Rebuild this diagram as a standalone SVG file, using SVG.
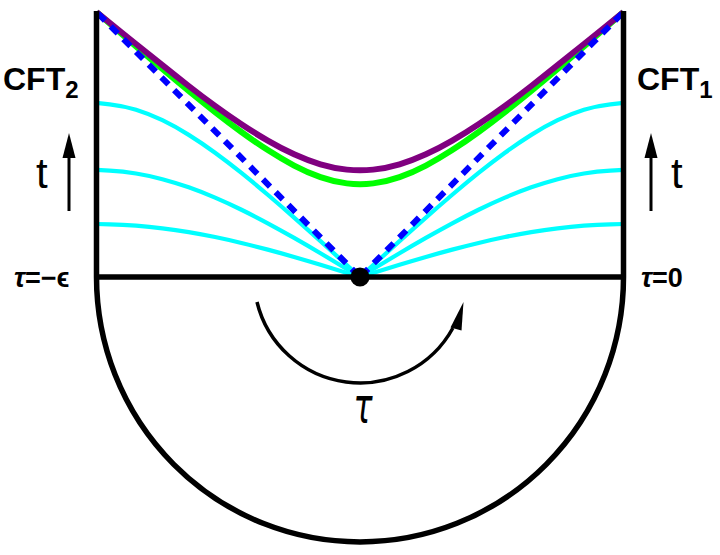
<svg xmlns="http://www.w3.org/2000/svg" width="720" height="555" viewBox="0 0 720 555">
<style>
.cy{fill:none;stroke:#00FFFF;stroke-width:4.2;stroke-linejoin:round}
.blk{fill:none;stroke:#000;stroke-width:5.5}
.lbl{font-family:"Liberation Sans",Arial,sans-serif;font-weight:bold;fill:#000}
.t{font-family:"Liberation Sans",Arial,sans-serif;font-size:42px;fill:#000}
</style>
<rect width="720" height="555" fill="#fff"/>
<g id="slices">
<path class="cy" d="M96.5,102.9 L109.675,104.3 Q122.85,105.7 136.025,109.75 Q149.2,113.8 162.375,120.2 Q175.55,126.6 188.725,134.85 Q201.9,143.1 215.075,152.7 Q228.25,162.3 241.425,172.9 Q254.6,183.5 267.775,194.75 Q280.95,206 294.125,217.65 Q307.3,229.3 320.475,241.15 Q333.65,253 360,277 Q386.35,253 399.525,241.15 Q412.7,229.3 425.875,217.65 Q439.05,206 452.225,194.75 Q465.4,183.5 478.575,172.9 Q491.75,162.3 504.925,152.7 Q518.1,143.1 531.275,134.85 Q544.45,126.6 557.625,120.2 Q570.8,113.8 583.975,109.75 Q597.15,105.7 610.325,104.3 L623.5,102.9"/>
<path class="cy" d="M96.5,169.9 L109.675,170.65 Q122.85,171.4 136.025,173.55 Q149.2,175.7 162.375,179.2 Q175.55,182.7 188.725,187.35 Q201.9,192 215.075,197.65 Q228.25,203.3 241.425,209.75 Q254.6,216.2 267.775,223.3 Q280.95,230.4 294.125,237.9 Q307.3,245.4 320.475,253.25 Q333.65,261.1 360,277 Q386.35,261.1 399.525,253.25 Q412.7,245.4 425.875,237.9 Q439.05,230.4 452.225,223.3 Q465.4,216.2 478.575,209.75 Q491.75,203.3 504.925,197.65 Q518.1,192 531.275,187.35 Q544.45,182.7 557.625,179.2 Q570.8,175.7 583.975,173.55 Q597.15,171.4 610.325,170.65 L623.5,169.9"/>
<path class="cy" d="M96.5,224 L109.675,224.35 Q122.85,224.7 136.025,225.7 Q149.2,226.7 162.375,228.3 Q175.55,229.9 188.725,232.1 Q201.9,234.3 215.075,237.05 Q228.25,239.8 241.425,242.95 Q254.6,246.1 267.775,249.65 Q280.95,253.2 294.125,257 Q307.3,260.8 320.475,264.8 Q333.65,268.8 360,277 Q386.35,268.8 399.525,264.8 Q412.7,260.8 425.875,257 Q439.05,253.2 452.225,249.65 Q465.4,246.1 478.575,242.95 Q491.75,239.8 504.925,237.05 Q518.1,234.3 531.275,232.1 Q544.45,229.9 557.625,228.3 Q570.8,226.7 583.975,225.7 Q597.15,224.7 610.325,224.35 L623.5,224"/>
<path fill="none" stroke="#00FF00" stroke-width="6" stroke-linejoin="round" d="M96.5,12 L109.675,23.6 Q122.85,35.2 136.025,46.55 Q149.2,57.9 162.375,69.05 Q175.55,80.2 188.725,91 Q201.9,101.8 215.075,112.1 Q228.25,122.4 241.425,132 Q254.6,141.6 267.775,150.1 Q280.95,158.6 294.125,165.55 Q307.3,172.5 320.475,177.125 Q333.65,181.75 346.825,183.375 Q360,185 373.175,183.375 Q386.35,181.75 399.525,177.125 Q412.7,172.5 425.875,165.55 Q439.05,158.6 452.225,150.1 Q465.4,141.6 478.575,132 Q491.75,122.4 504.925,112.1 Q518.1,101.8 531.275,91 Q544.45,80.2 557.625,69.05 Q570.8,57.9 583.975,46.55 Q597.15,35.2 610.325,23.6 L623.5,12"/>
<path fill="none" stroke="#800080" stroke-width="6" stroke-linejoin="round" d="M96.5,12 L109.675,22.75 Q122.85,33.5 136.025,44 Q149.2,54.5 162.375,65.1 Q175.55,75.7 188.725,86 Q201.9,96.3 215.075,105.9 Q228.25,115.5 241.425,124.25 Q254.6,133 267.775,140.65 Q280.95,148.3 294.125,154.35 Q307.3,160.4 320.475,164.325 Q333.65,168.25 346.825,169.625 Q360,171 373.175,169.625 Q386.35,168.25 399.525,164.325 Q412.7,160.4 425.875,154.35 Q439.05,148.3 452.225,140.65 Q465.4,133 478.575,124.25 Q491.75,115.5 504.925,105.9 Q518.1,96.3 531.275,86 Q544.45,75.7 557.625,65.1 Q570.8,54.5 583.975,44 Q597.15,33.5 610.325,22.75 L623.5,12"/>
</g>
<g id="horizons">
<line x1="98" y1="13.5" x2="360" y2="277" stroke="#0000FF" stroke-width="6" stroke-dasharray="10 8"/>
<line x1="622" y1="13.5" x2="360" y2="277" stroke="#0000FF" stroke-width="6" stroke-dasharray="10 8"/>
</g>
<g id="boundary">
<path class="blk" d="M96.5,11 V277 A263.5,265 0 0 0 623.5,277 V11"/>
<line class="blk" x1="96.5" y1="277" x2="623.5" y2="277"/>
<circle cx="360" cy="277" r="9.5" fill="#000"/>
</g>
<g id="cft2">
<text class="lbl" x="3" y="90" font-size="32">CFT<tspan font-size="24" dy="8">2</tspan></text>
<line x1="69" y1="211" x2="69" y2="152" stroke="#000" stroke-width="3"/>
<polygon points="69,133 62.5,158 75.5,158" fill="#000"/>
<text class="t" x="36" y="188">t</text>
<text class="lbl" x="14" y="287" font-size="27"><tspan font-style="italic">τ</tspan>=−ϵ</text>
</g>
<g id="cft1">
<text class="lbl" x="637" y="90" font-size="32">CFT<tspan font-size="24" dy="8">1</tspan></text>
<line x1="651" y1="211" x2="651" y2="152" stroke="#000" stroke-width="3"/>
<polygon points="651,133 644.5,158 657.5,158" fill="#000"/>
<text class="t" x="671" y="188">t</text>
<text class="lbl" x="641" y="287" font-size="27"><tspan font-style="italic">τ</tspan>=0</text>
</g>
<g id="euclidean">
<path d="M257,302 A106,106 0 0 0 452.9,328" fill="none" stroke="#000" stroke-width="3.5"/>
<polygon points="463.5,302 450.5,327.5 461.5,330.5" fill="#000"/>
<text transform="translate(363,423) scale(0.72,1.15)" font-family="'DejaVu Sans',sans-serif" font-style="italic" font-size="44" text-anchor="middle" fill="#000">τ</text>
</g>
</svg>
